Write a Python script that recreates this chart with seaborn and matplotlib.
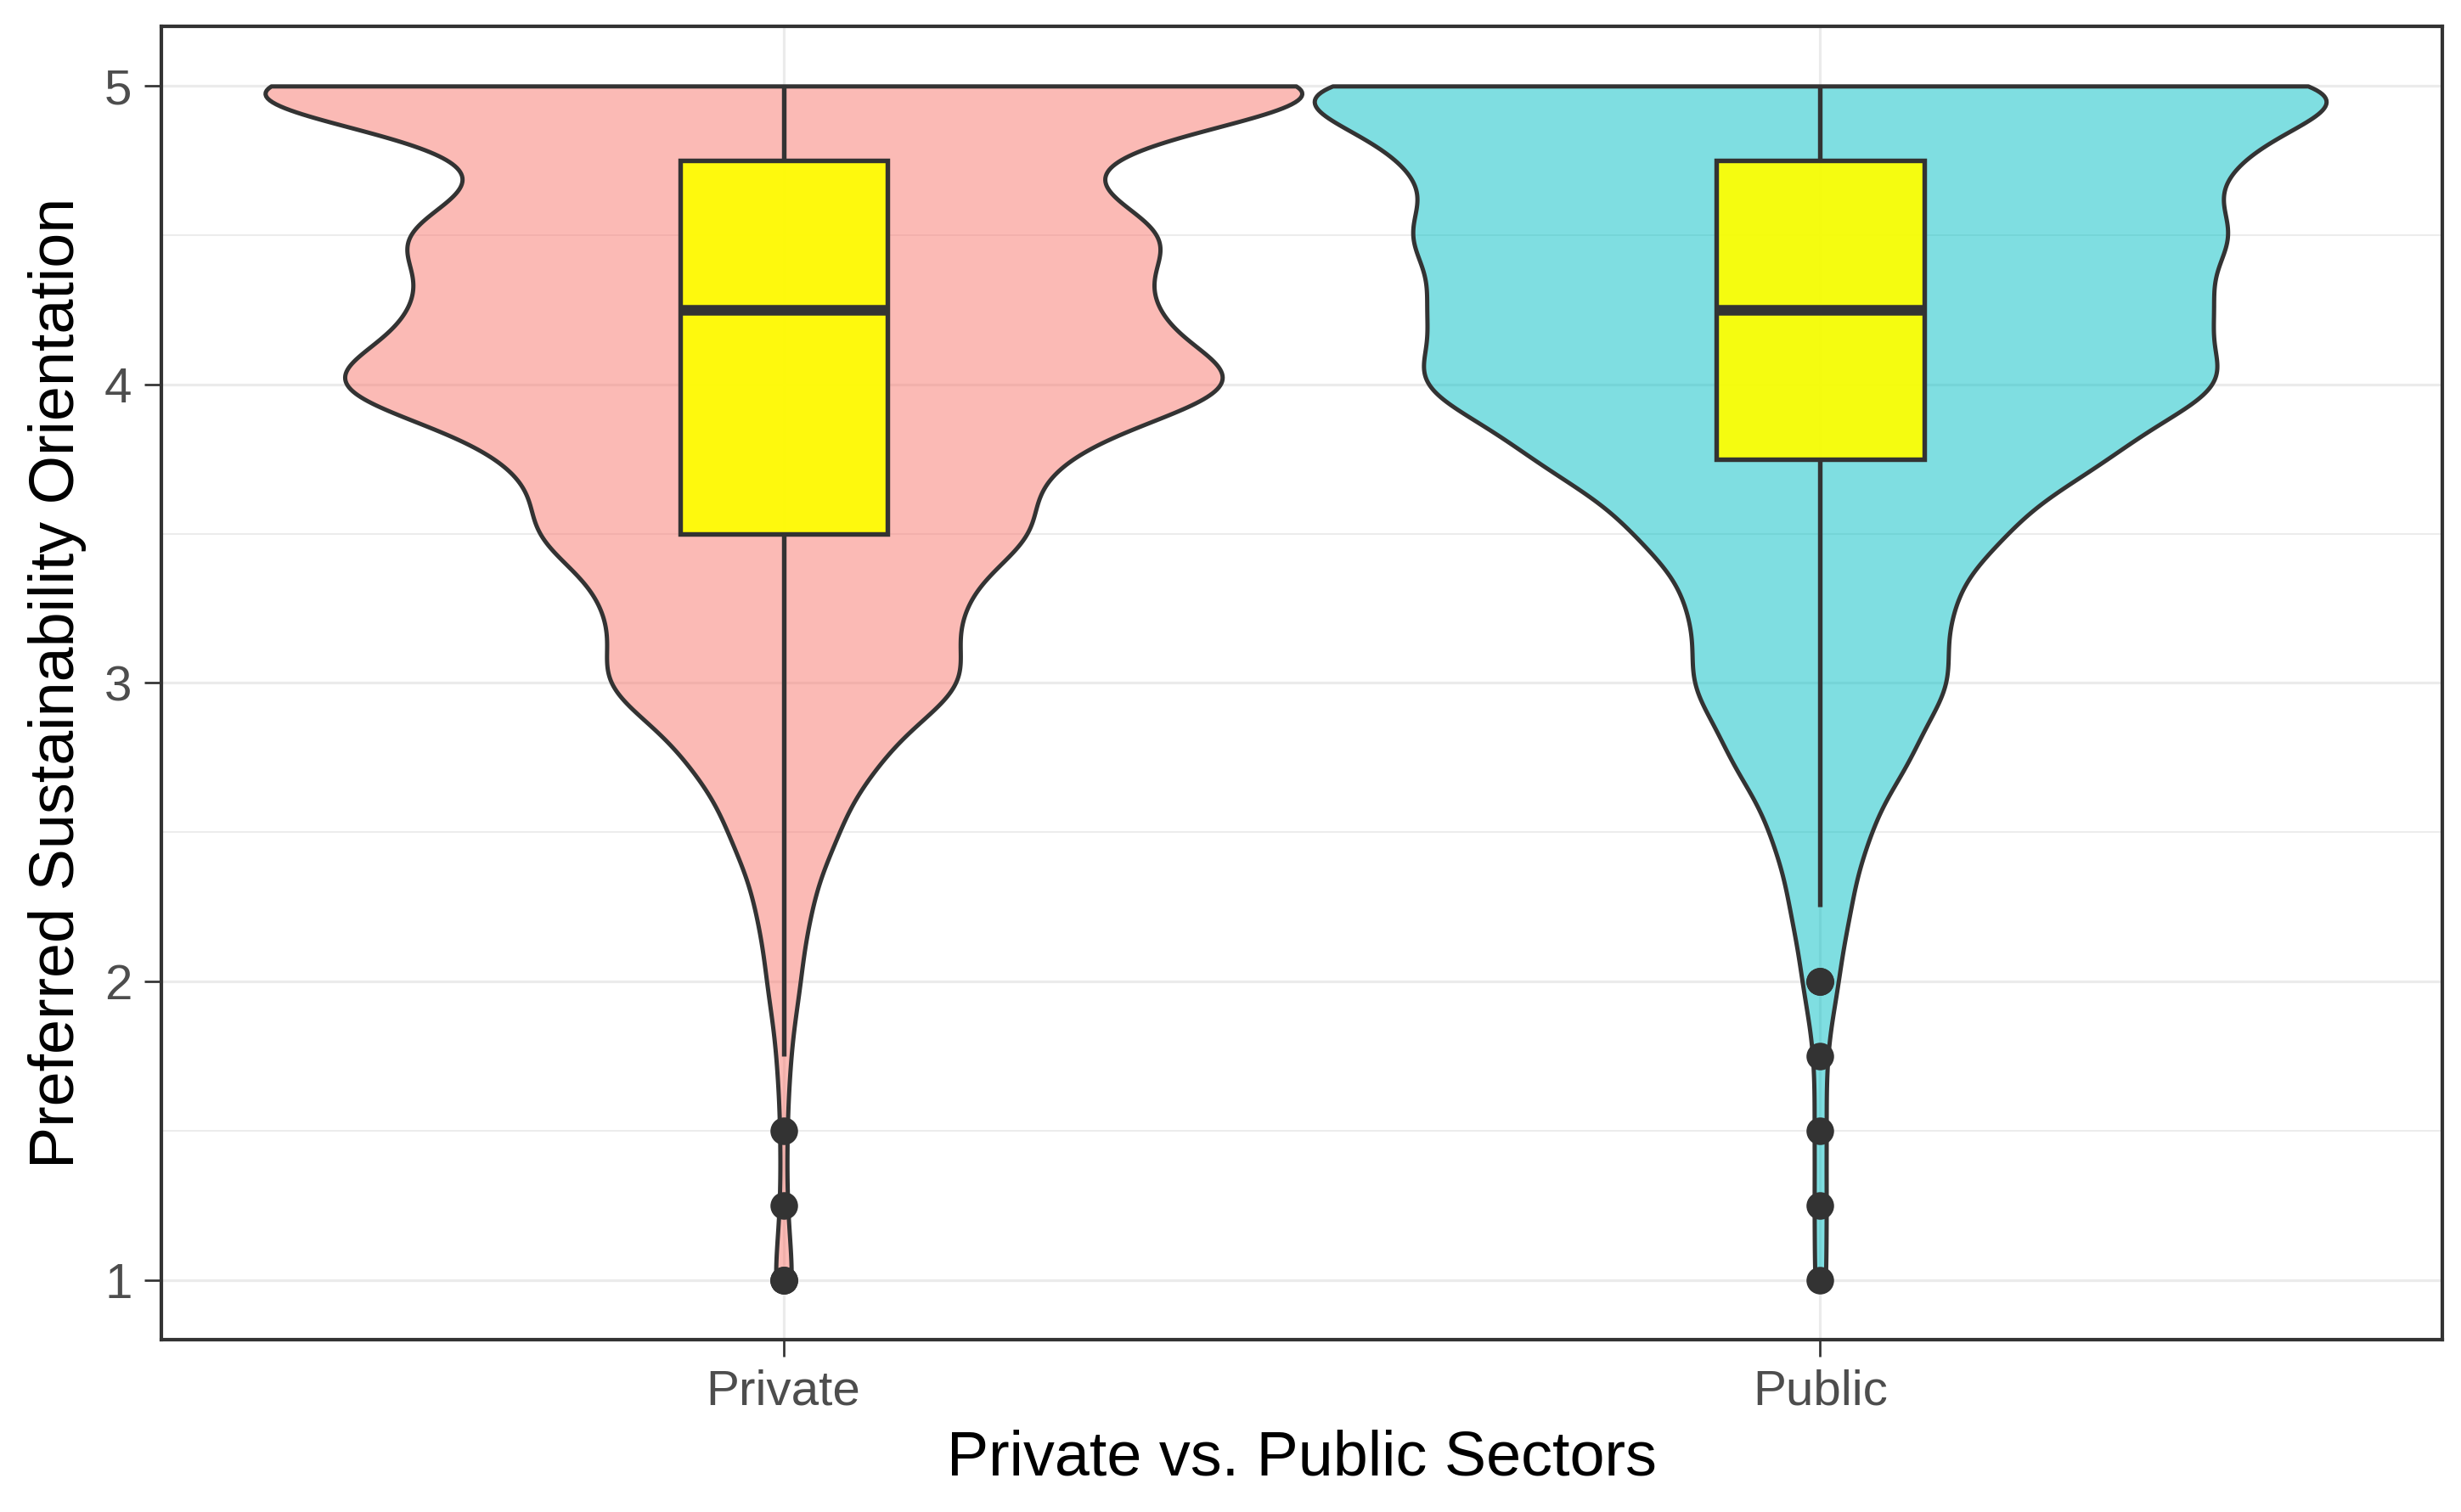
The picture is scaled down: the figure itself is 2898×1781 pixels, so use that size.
import numpy as np
import pandas as pd
import matplotlib
matplotlib.use("Agg")
import matplotlib.pyplot as plt
import seaborn as sns
from matplotlib.colors import to_rgba

# ---------------- data ----------------
sectors = ["Private", "Public"]
score_levels = [1.0, 1.25, 1.5, 1.75, 2.0, 2.25, 2.5, 2.75, 3.0,
                3.25, 3.5, 3.75, 4.0, 4.25, 4.5, 4.75, 5.0]
private_counts = [3, 1, 1, 2, 5, 8, 16, 28, 56, 50, 76, 76, 146, 104, 119, 76, 199]
public_counts = [1, 1, 1, 1, 3, 5, 8, 15, 22, 21, 30, 47, 69, 64, 69, 65, 101]
sector_colors = ["#F8766D", "#00BFC4"]
y_ticks = [1, 2, 3, 4, 5]
y_minor = [1.5, 2.5, 3.5, 4.5]
x_title = "Private vs. Public Sectors"
y_title = "Preferred Sustainability Orientation"

df = pd.DataFrame({
    "sector": np.repeat(sectors, [sum(private_counts), sum(public_counts)]),
    "score": np.concatenate([np.repeat(score_levels, private_counts),
                             np.repeat(score_levels, public_counts)]),
})

# ---------------- style ----------------
sns.set_theme(style="white")
plt.rcParams["font.family"] = ["Liberation Sans", "DejaVu Sans"]

BW = 0.14  # absolute kernel bandwidth
violin_widths = [1.0, 0.976]   # area-scaled widths (public peak is a bit lower)


def bw_abs(kde):
    return BW / np.std(kde.dataset, ddof=1)


fig, ax = plt.subplots(figsize=(2898 / 300, 1781 / 300), dpi=300)
fig.subplots_adjust(left=0.0656, right=0.9924, top=0.9826, bottom=0.114)

for sec, col, w in zip(sectors, sector_colors, violin_widths):
    n_before = len(ax.collections)
    sns.violinplot(data=df[df["sector"] == sec], x="sector", y="score",
                   order=sectors, color=col, saturation=1,
                   cut=0, density_norm="width", width=w, inner=None,
                   linewidth=1.2, linecolor="#333333", bw_method=bw_abs,
                   gridsize=600, ax=ax)
    for coll in ax.collections[n_before:]:
        coll.set_facecolor(to_rgba(col, 0.5))
        coll.set_edgecolor("#333333")

n_patches_before = len(ax.patches)
sns.boxplot(data=df, x="sector", y="score", order=sectors, width=0.2,
            color="#FFFF00", saturation=1, linecolor="#333333", linewidth=1.3,
            showcaps=False, whis=1.5,
            flierprops=dict(marker="o", markersize=7.8, markerfacecolor="#333333",
                            markeredgecolor="#333333", markeredgewidth=0),
            medianprops=dict(linewidth=3.0, color="#333333"), ax=ax)
for p in ax.patches[n_patches_before:]:
    p.set_facecolor(to_rgba("#FFFF00", 0.93))

# ---------------- axes ----------------
ax.set_xlim(-0.6, 1.6)
ax.set_ylim(0.8, 5.2)
ax.set_yticks(y_ticks)
ax.set_yticks(y_minor, minor=True)
ax.set_axisbelow(True)
ax.grid(which="major", color="#EBEBEB", linewidth=0.75)
ax.grid(which="minor", axis="y", color="#EBEBEB", linewidth=0.45)
for s in ax.spines.values():
    s.set_visible(True)
    s.set_color("#333333")
    s.set_linewidth(1.0)
ax.tick_params(which="major", length=4.8, width=0.65, color="#333333",
               labelcolor="#4D4D4D", labelsize=14, pad=3.5,
               left=True, bottom=True)
ax.tick_params(which="minor", length=0, left=False)
ax.set_xlabel(x_title, fontsize=17.7, color="black", labelpad=4)
ax.set_ylabel(y_title, fontsize=17.7, color="black", labelpad=5)

fig.savefig("out.png", dpi=300)
